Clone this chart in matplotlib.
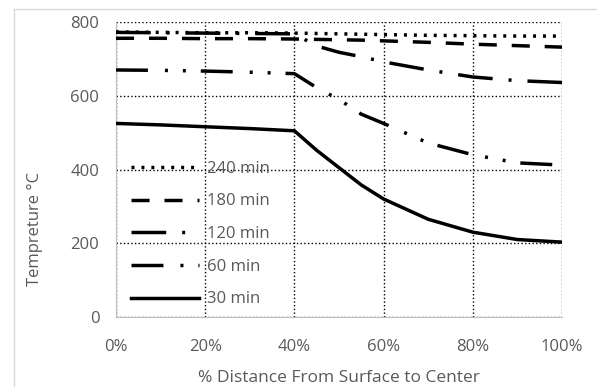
import matplotlib.pyplot as plt
from matplotlib.ticker import FuncFormatter
from matplotlib.lines import Line2D

plt.rcParams["font.family"] = ["Open Sans", "DejaVu Sans"]

# % distance from surface to center
x = [0, 10, 20, 30, 40, 45, 50, 55, 60, 70, 80, 90, 100]
t240 = [773, 772, 771, 771, 770, 769, 768, 767, 766, 764, 763, 762, 762]
t180 = [756, 756, 755, 755, 754, 753, 752, 751, 749, 745, 740, 736, 732]
t120 = [772, 771, 770, 769, 768, 735, 718, 706, 692, 670, 651, 641, 636]
t60 = [670, 669, 667, 664, 660, 622, 590, 550, 525, 472, 440, 418, 412]
t30 = [525, 521, 516, 511, 505, 452, 405, 358, 320, 265, 230, 210, 203]
labels = ["240 min", "180 min", "120 min", "60 min", "30 min"]

gray = "#595959"
lw = 2.5
styles = [
    (0, (0.86, 2.0)),
    (0, (5.2, 4.3)),
    (0, (10, 4.6, 0.86, 4.6)),
    (0, (9.2, 4.9, 0.86, 4.3, 0.86, 4.3)),
    "-",
]

fig = plt.figure(figsize=(5.97, 3.87), dpi=100)
ax = fig.add_axes([0.1943, 0.181, 0.7471, 0.762])

# light frame around the chart area
fig.add_artist(Line2D([14 / 597, 1], [1 - 9 / 387] * 2, color="#d9d9d9", lw=1))
fig.add_artist(Line2D([14 / 597] * 2, [0, 1 - 9 / 387], color="#d9d9d9", lw=1))

series = [t240, t180, t120, t60, t30]
for y, ls, lab in zip(series, styles, labels):
    ax.plot(x, y, color="black", lw=lw, linestyle=ls, label=lab, zorder=3)

ax.set_xlim(0, 100)
ax.set_ylim(0, 800)
ax.set_xticks([0, 20, 40, 60, 80, 100])
ax.set_yticks([0, 200, 400, 600, 800])
ax.xaxis.set_major_formatter(FuncFormatter(lambda v, p: f"{v:.0f}%"))
ax.grid(True, color="black", linestyle=":", lw=1)
ax.tick_params(length=0, labelsize=12, labelcolor=gray)
ax.tick_params(axis="y", pad=12)
ax.tick_params(axis="x", pad=16)

for s in ["top", "right"]:
    ax.spines[s].set_visible(False)
for s in ["left", "bottom"]:
    ax.spines[s].set_color("#bfbfbf")

ax.set_xlabel("% Distance From Surface to Center", fontsize=12.5, color=gray, labelpad=11)
ax.set_ylabel("Tempreture °C", fontsize=12, color=gray)
ax.yaxis.set_label_coords(-0.164, 0.30)

ax.legend(loc="lower left", bbox_to_anchor=(0.018, 0.01), frameon=False,
          fontsize=12, labelcolor=gray, handlelength=4.1, handletextpad=0.5,
          labelspacing=1.0, borderaxespad=0)

fig.savefig("out.png", dpi=100)
